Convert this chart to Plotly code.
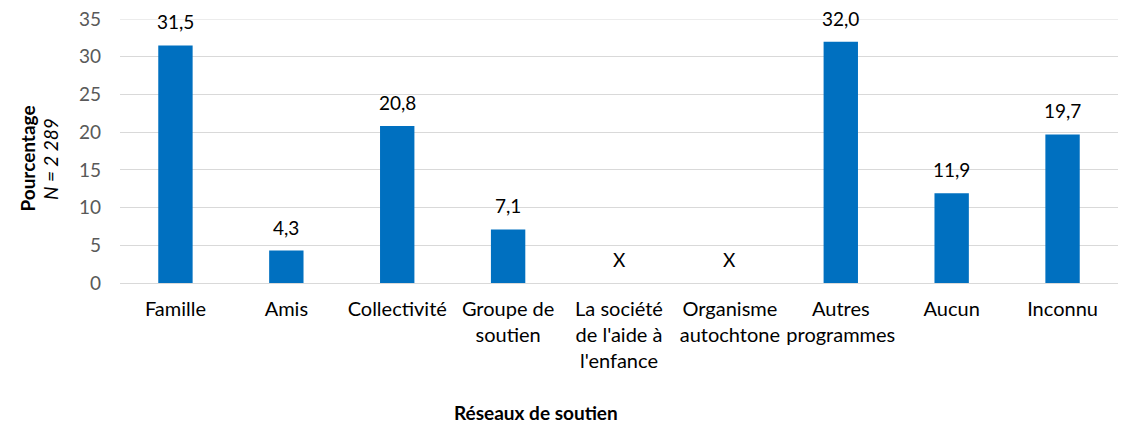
import plotly.graph_objects as go

categories = ["Famille", "Amis", "Collectivité", "Groupe de<br>soutien",
              "La société<br>de l'aide à<br>l'enfance", "Organisme<br>autochtone",
              "Autres<br>programmes", "Aucun", "Inconnu"]
values = [31.5, 4.3, 20.8, 7.1, None, None, 32.0, 11.9, 19.7]
value_labels = ["31,5", "4,3", "20,8", "7,1", "X", "X", "32,0", "11,9", "19,7"]
y_ticks = [0, 5, 10, 15, 20, 25, 30, 35]

FONT = "Lato, 'Open Sans', sans-serif"
BLUE = "#0070c0"
GRID = "#d9d9d9"

fig = go.Figure()
fig.add_trace(go.Bar(
    x=categories,
    y=[v if v is not None else 0 for v in values],
    marker=dict(color=BLUE, line=dict(width=0)),
    width=0.31,
    hoverinfo="x+y",
))

# value labels above bars (X for suppressed values)
for cat, val, lab in zip(categories, values, value_labels):
    fig.add_annotation(
        x=cat, y=val if val is not None else 0,
        text=lab, showarrow=False,
        yanchor="bottom", yshift=10,
        font=dict(family=FONT, size=19, color="#000000"),
    )

# plotly skips the gridline sitting on the top edge, so draw it
fig.add_shape(type="line", xref="paper", yref="y", x0=0, x1=1,
              y0=y_ticks[-1], y1=y_ticks[-1],
              line=dict(color=GRID, width=1), layer="below")

# y axis title, two rotated lines
fig.add_annotation(
    text="<b>Pourcentage</b>",
    xref="paper", yref="paper", x=-0.0925, y=0.47,
    textangle=-90, showarrow=False, xanchor="center", yanchor="middle",
    font=dict(family=FONT, size=19, color="#000000"),
)
fig.add_annotation(
    text="<i>N = 2 289</i>",
    xref="paper", yref="paper", x=-0.069, y=0.47,
    textangle=-90, showarrow=False, xanchor="center", yanchor="middle",
    font=dict(family=FONT, size=19, color="#000000"),
)

# x axis title
fig.add_annotation(
    text="<b>Réseaux de soutien</b>",
    xref="paper", yref="paper", x=0.4168, y=-0.489,
    showarrow=False, xanchor="center", yanchor="middle",
    font=dict(family=FONT, size=19, color="#000000"),
)

# page body adds an 8px offset, so the figure is 8px smaller than the window
fig.update_layout(
    width=1132, height=422,
    margin=dict(l=112, r=22, t=11, b=147, autoexpand=False),
    plot_bgcolor="white", paper_bgcolor="white",
    showlegend=False,
    font=dict(family=FONT, size=19, color="#000000"),
    bargap=0.69,
)
fig.update_xaxes(
    showgrid=False, showline=False, ticks="", automargin=False,
    ticklabelstandoff=12,
    tickfont=dict(family=FONT, size=20, color="#000000"),
)
fig.update_yaxes(
    range=[0, 35], tickvals=y_ticks, automargin=False,
    showgrid=True, gridcolor=GRID, gridwidth=1,
    zeroline=True, zerolinecolor=GRID, zerolinewidth=1,
    showline=False, ticks="", ticklabelstandoff=18,
    ticklabeloverflow="allow",
    tickfont=dict(family=FONT, size=19, color="#595959"),
)

fig.write_html("out.html")
